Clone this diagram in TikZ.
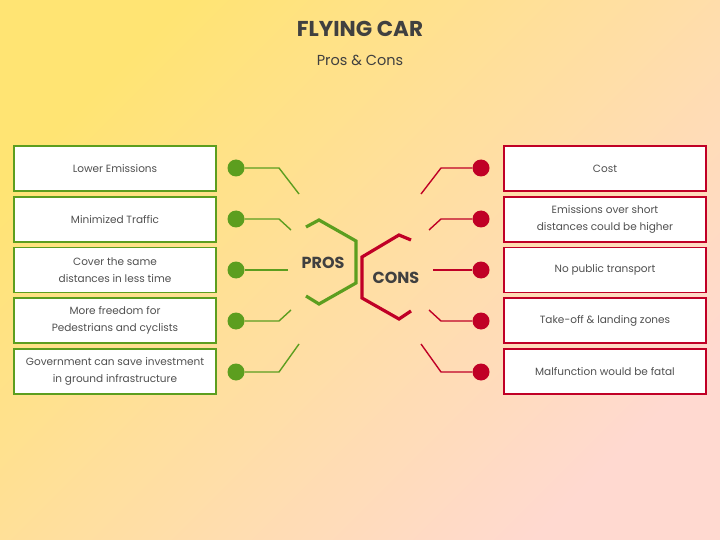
\documentclass[tikz,border=0pt]{standalone}
\usepackage{fontspec}
\setmainfont{Poppins}
\usetikzlibrary{shapes.geometric}
\definecolor{progreen}{HTML}{5C9E1F}
\definecolor{conred}{HTML}{C00026}
\definecolor{inkgray}{HTML}{404040}
\definecolor{boxgray}{HTML}{505050}
\definecolor{bgyellow}{HTML}{FFE473}
\definecolor{bgpeach}{HTML}{FFD9D0}

\begin{document}
\begin{tikzpicture}[x=1pt,y=1pt,every node/.style={inner sep=1pt},
  itembox/.style={draw,fill=white,line width=1.6pt,minimum width=202pt,minimum height=45pt,
    align=center,text=boxgray,font=\fontsize{10.5}{17}\selectfont},
  probox/.style={itembox,draw=progreen},
  conbox/.style={itembox,draw=conred},
  prodot/.style={circle,fill=progreen,inner sep=0pt,minimum size=17pt},
  condot/.style={circle,fill=conred,inner sep=0pt,minimum size=17pt},
  proline/.style={progreen,line width=1.4pt},
  conline/.style={conred,line width=1.4pt},
  hexline/.style={line width=3.2pt,line join=miter}]
  \useasboundingbox (0,0) rectangle (720,-540);
  \shade [top color=bgyellow,bottom color=bgpeach,shading angle=45]
    (0,0) rectangle (720,-540);

  \node [text=inkgray,font=\fontsize{21.5}{26}\selectfont\bfseries] (title) at (360,-29) {FLYING CAR};
  \node [text=inkgray,font=\fontsize{14.5}{18}\selectfont] (subtitle) at (360,-60) {Pros \& Cons};

  % pros side
  \node [probox] (pro1) at (115,-168.5) {Lower Emissions};
  \node [probox] (pro2) at (115,-219.5) {Minimized Traffic};
  \node [probox] (pro3) at (115,-270) {Cover the same\\distances in less time};
  \node [probox] (pro4) at (115,-320.5) {More freedom for\\Pedestrians and cyclists};
  \node [probox] (pro5) at (115,-371.5) {Government can save investment\\in ground infrastructure};

  \node [prodot] (pd1) at (236,-168) {};
  \node [prodot] (pd2) at (236,-219) {};
  \node [prodot] (pd3) at (236,-270) {};
  \node [prodot] (pd4) at (236,-321) {};
  \node [prodot] (pd5) at (236,-372) {};

  \coordinate (pe1) at (299,-194);
  \coordinate (pe2) at (291,-230);
  \coordinate (pe3) at (288,-270);
  \coordinate (pe4) at (291,-310);
  \coordinate (pe5) at (299,-344);

  \draw [proline] (pd1) -- ++(43,0) -- (pe1);
  \draw [proline] (pd2) -- ++(43,0) -- (pe2);
  \draw [proline] (pd3) -- (pe3);
  \draw [proline] (pd4) -- ++(43,0) -- (pe4);
  \draw [proline] (pd5) -- ++(43,0) -- (pe5);

  \draw [hexline,progreen] (306,-227) -- (319,-220) -- (356,-241) -- (356,-283)
    -- (319,-304) -- (306,-296);
  \node [text=inkgray,font=\fontsize{16}{19}\selectfont\bfseries] (pros) at (323,-263) {PROS};

  % cons side
  \node [conbox] (con1) at (605,-168.5) {Cost};
  \node [conbox] (con2) at (605,-219.5) {Emissions over short\\distances could be higher};
  \node [conbox] (con3) at (605,-270) {No public transport};
  \node [conbox] (con4) at (605,-320.5) {Take-off \& landing zones};
  \node [conbox] (con5) at (605,-371.5) {Malfunction would be fatal};

  \node [condot] (cd1) at (481,-168) {};
  \node [condot] (cd2) at (481,-219) {};
  \node [condot] (cd3) at (481,-270) {};
  \node [condot] (cd4) at (481,-321) {};
  \node [condot] (cd5) at (481,-372) {};

  \coordinate (ce1) at (421,-194);
  \coordinate (ce2) at (429,-230);
  \coordinate (ce3) at (433,-270);
  \coordinate (ce4) at (429,-310);
  \coordinate (ce5) at (421,-344);

  \draw [conline] (cd1) -- ++(-40,0) -- (ce1);
  \draw [conline] (cd2) -- ++(-40,0) -- (ce2);
  \draw [conline] (cd3) -- (ce3);
  \draw [conline] (cd4) -- ++(-40,0) -- (ce4);
  \draw [conline] (cd5) -- ++(-40,0) -- (ce5);

  \draw [hexline,conred] (411,-240) -- (399,-235) -- (362,-257) -- (362,-298)
    -- (399,-319) -- (411,-311);
  \node [text=inkgray,font=\fontsize{16}{19}\selectfont\bfseries] (cons) at (396,-278) {CONS};

\end{tikzpicture}
\end{document}
